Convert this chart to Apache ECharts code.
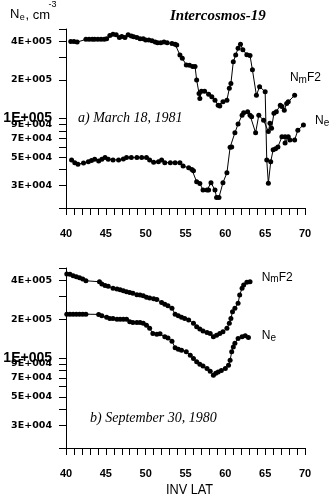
<!DOCTYPE html>
<html><head><meta charset="utf-8">
<script src="https://cdn.jsdelivr.net/npm/echarts@6/dist/echarts.min.js"></script>
<style>html,body{margin:0;padding:0;background:#fff}#c{width:332px;height:500px}</style>
</head><body><div id="c"></div>
<script>
// ---- data (invariant latitude, deg ; electron density, cm^-3) ----
const topNmF2Lat = [40.6,41.0,41.4,42.5,42.9,43.3,43.6,44.0,44.4,44.8,
  45.1,45.5,45.9,46.3,46.7,47.0,47.4,47.8,48.2,48.5,
  48.9,49.3,49.7,50.0,50.4,50.8,51.2,51.5,51.9,52.3,
  52.7,53.3,53.7,53.9,54.3,54.6,55.1,55.5,55.9,56.2,
  56.4,56.7,56.8,57.0,57.4,57.9,58.3,58.7,59.1,59.3,
  59.7,60.2,60.5,60.7,61.0,61.3,61.6,61.9,62.2,62.7,
  63.1,63.4,63.9,64.3,65.0,65.2,65.4,65.7,66.0,66.3,
  66.6,67.1,67.5,67.5,67.9,68.1,68.7,69.1,69.8];
const topNmF2Val = [4.0e5,4.0e5,3.95e5,4.15e5,4.15e5,4.15e5,4.15e5,4.15e5,4.15e5,4.15e5,
  4.2e5,4.45e5,4.55e5,4.5e5,4.3e5,4.37e5,4.3e5,4.5e5,4.4e5,4.35e5,
  4.3e5,4.2e5,4.2e5,4.1e5,4.1e5,4.05e5,3.95e5,3.9e5,3.9e5,3.95e5,
  3.9e5,3.85e5,3.8e5,3.75e5,3.13e5,2.95e5,2.62e5,2.6e5,2.55e5,2.55e5,
  2.0e5,1.57e5,1.43e5,1.63e5,1.63e5,1.55e5,1.48e5,1.39e5,1.27e5,1.25e5,
  1.35e5,1.39e5,1.72e5,1.88e5,2.78e5,3.13e5,3.53e5,3.8e5,3.45e5,3.15e5,
  3.1e5,2.4e5,1.52e5,1.77e5,1.62e5,4.75e4,3.12e4,4.6e4,5.7e4,5.8e4,
  6.0e4,7.2e4,7.2e4,6.45e4,7.2e4,6.8e4,6.8e4,8.1e4,8.9e4];

const topNeLat = [40.7,41.1,41.5,42.2,42.8,43.2,43.6,44.1,44.5,44.9,
  45.3,45.9,46.6,47.2,47.6,48.2,48.9,49.5,50.1,50.5,
  51.0,51.6,52.0,52.4,53.1,53.7,54.3,54.7,55.4,55.8,
  56.0,56.4,56.8,57.2,57.7,57.9,58.2,58.7,58.9,59.2,
  59.7,60.2,60.6,60.8,61.2,61.6,62.1,62.3,62.8,63.1,
  63.3,63.8,64.2,64.8,65.4,65.6,65.8,66.1,66.4,66.9,
  67.1,67.4,67.7,67.9,68.7];
const topNeVal = [4.75e4,4.52e4,4.4e4,4.49e4,4.6e4,4.7e4,4.8e4,4.65e4,4.8e4,4.95e4,
  4.8e4,4.75e4,4.75e4,4.82e4,4.95e4,4.95e4,4.95e4,4.95e4,4.95e4,4.75e4,
  4.55e4,4.6e4,4.75e4,4.52e4,4.52e4,4.52e4,4.52e4,4.25e4,4.12e4,4.0e4,
  3.9e4,3.2e4,3.11e4,2.76e4,2.76e4,2.76e4,3.15e4,2.76e4,2.42e4,2.42e4,
  3.15e4,3.77e4,5.96e4,6.0e4,7.74e4,9.06e4,1.06e5,1.11e5,1.13e5,1.06e5,
  1.03e5,7.74e4,1.06e5,9.7e4,7.9e4,9.2e4,8.4e4,1.1e5,1.13e5,1.27e5,
  1.24e5,1.16e5,1.31e5,1.35e5,1.52e5];

const botNmF2Lat = [40.1,40.5,40.9,41.3,41.7,42.1,42.5,44.2,44.5,44.9,
  45.3,45.9,46.4,46.8,47.2,47.6,48.0,48.4,48.9,49.3,
  49.7,50.1,50.5,51.0,51.4,52.0,52.4,52.8,53.3,53.7,
  54.1,54.5,54.9,55.4,56.0,56.4,56.8,57.2,57.7,58.1,
  58.5,58.9,59.3,59.7,60.2,60.5,60.7,60.9,61.2,61.6,
  61.8,62.1,62.3,62.7,63.1];
const botNmF2Val = [4.49e5,4.47e5,4.36e5,4.28e5,4.2e5,4.1e5,3.98e5,3.91e5,3.75e5,3.65e5,
  3.6e5,3.48e5,3.44e5,3.39e5,3.33e5,3.27e5,3.23e5,3.18e5,3.1e5,3.08e5,
  3.05e5,2.97e5,2.92e5,2.89e5,2.85e5,2.7e5,2.62e5,2.55e5,2.43e5,2.19e5,
  2.13e5,2.07e5,2.03e5,1.97e5,1.86e5,1.75e5,1.68e5,1.62e5,1.58e5,1.55e5,
  1.46e5,1.5e5,1.55e5,1.6e5,1.7e5,1.86e5,2.03e5,2.29e5,2.43e5,2.66e5,
  3.08e5,3.48e5,3.69e5,3.87e5,3.91e5];

const botNeLat = [40.1,40.5,40.9,41.3,41.7,42.1,42.5,44.1,44.5,45.1,
  45.5,45.9,46.4,46.8,47.2,47.6,48.0,48.4,48.9,49.3,
  49.7,50.1,50.5,50.9,51.4,51.8,52.4,52.8,53.3,53.7,
  54.1,54.5,55.1,55.6,56.0,56.4,56.8,57.2,57.7,58.1,
  58.5,58.8,59.1,59.5,60.0,60.4,60.6,60.8,61.0,61.2,
  61.6,62.1,62.5,62.9];
const botNeVal = [2.19e5,2.19e5,2.19e5,2.19e5,2.19e5,2.19e5,2.19e5,2.18e5,2.13e5,2.07e5,
  2.03e5,2.03e5,2.0e5,2.0e5,2.0e5,2.0e5,1.91e5,1.89e5,1.89e5,1.89e5,
  1.86e5,1.8e5,1.7e5,1.55e5,1.53e5,1.54e5,1.46e5,1.43e5,1.35e5,1.2e5,
  1.17e5,1.15e5,1.12e5,1.05e5,9.9e4,9.34e4,8.96e4,8.65e4,8.3e4,7.9e4,
  7.36e4,7.6e4,7.8e4,8.0e4,8.3e4,8.8e4,9.6e4,1.12e5,1.22e5,1.3e5,
  1.42e5,1.46e5,1.49e5,1.44e5];

// ---- axes ----
const xMin = 40, xMax = 70, xTickStep = 1, xLabelStep = 5;
const yMin = 2e4, yMax = 5e5;
const yTickValues = [2e4,3e4,4e4,5e4,6e4,7e4,8e4,9e4,1e5,2e5,3e5,4e5,5e5];
const yLabelValues = [3e4,5e4,7e4,9e4,1e5,2e5,4e5];
const yLabelTexts = ['3E+004','5E+004','7E+004','9E+004','1E+005','2E+005','4E+005'];
const bigLabelValue = 1e5;
const xAxisTitle = 'INV LAT';
const titleText = 'Intercosmos-19';
const panelA = 'a) March 18, 1981';
const panelB = 'b) September 30, 1980';

const L = Math.log10;
const pairs = (lat, val) => lat.map((x, i) => [x, L(val[i])]);

function yLabelFmt(v) {
  for (let i = 0; i < yLabelValues.length; i++) {
    if (Math.abs(L(yLabelValues[i]) - v) < 1e-6) {
      return yLabelValues[i] === bigLabelValue ? '{big|' + yLabelTexts[i] + '}' : yLabelTexts[i];
    }
  }
  return '';
}

const grids = [
  { left: 66, top: 29, width: 239, height: 179 },
  { left: 66, top: 268, width: 239, height: 180 }
];

function mkX(i) {
  return {
    type: 'value', gridIndex: i, min: xMin, max: xMax, interval: xTickStep,
    axisLine: { show: true, onZero: false, lineStyle: { color: '#000', width: 1 } },
    axisTick: { show: true, length: 7, lineStyle: { color: '#000', width: 1 } },
    splitLine: { show: false },
    axisLabel: {
      margin: 20, color: '#000', fontFamily: '"Liberation Sans"', fontWeight: 'bold', fontSize: 11,
      showMinLabel: true, showMaxLabel: true,
      formatter: v => (Math.round(v) % xLabelStep === 0 ? String(Math.round(v)) : '')
    }
  };
}
function mkY(i) {
  return {
    type: 'value', gridIndex: i, min: L(yMin), max: L(yMax),
    axisLine: { show: true, onZero: false, lineStyle: { color: '#000', width: 1 } },
    axisTick: { show: true, length: 7, lineStyle: { color: '#000', width: 1 }, customValues: yTickValues.map(L) },
    splitLine: { show: false },
    axisLabel: {
      margin: 14, color: '#000', fontFamily: '"DejaVu Sans"', fontWeight: 'bold', fontSize: 9.5,
      customValues: yLabelValues.map(L), formatter: yLabelFmt, hideOverlap: false,
      rich: { big: { fontFamily: '"Liberation Sans"', fontWeight: 'bold', fontSize: 14, color: '#000' } }
    }
  };
}

function mkSeries(data, i) {
  return {
    type: 'line', xAxisIndex: i, yAxisIndex: i, data: data,
    symbol: 'circle', symbolSize: 5, showSymbol: true,
    itemStyle: { color: '#000' }, lineStyle: { color: '#000', width: 1 },
    animation: false, silent: true
  };
}

function txt(x, y, text, font, extra, sx) {
  return { type: 'text', x: x, y: y, silent: true, scaleX: sx || 1,
    style: Object.assign({ text: text, font: font, fill: '#000', align: 'left', verticalAlign: 'middle' }, extra || {}) };
}
const SANS = '"Liberation Sans"';
const graphics = [
  txt(10, 14.5, 'N', '13px ' + SANS),
  txt(19.8, 17.2, 'e', '9px ' + SANS),
  txt(25.5, 15.2, ', cm', '13px ' + SANS),
  txt(48.5, 4.6, '-3', '9px ' + SANS),
  txt(170, 16, titleText, 'italic bold 15px "Liberation Serif"'),
  txt(78, 118.5, panelA, 'italic 14px "Liberation Serif"'),
  txt(90, 418.5, panelB, 'italic 14px "Liberation Serif"'),
  // top labels
  txt(290, 78, 'N', '12px ' + SANS),
  txt(298.6, 80, 'm', '10px ' + SANS),
  txt(307, 78, 'F2', '12px ' + SANS),
  txt(315, 121, 'N', '12px ' + SANS),
  txt(323.8, 123.4, 'e', '10px ' + SANS),
  // bottom labels
  txt(261.7, 277.5, 'N', '12px ' + SANS),
  txt(270.3, 279.5, 'm', '10px ' + SANS),
  txt(278.7, 277.5, 'F2', '12px ' + SANS),
  txt(261.7, 336, 'N', '12px ' + SANS),
  txt(270.5, 338.4, 'e', '10px ' + SANS),
  txt(189.5, 490, xAxisTitle, '15px ' + SANS, { align: 'center' }, 0.85)
];

const chart = echarts.init(document.getElementById('c'), null, { renderer: 'canvas' });
chart.setOption({
  backgroundColor: '#fff',
  animation: false,
  grid: grids,
  xAxis: [mkX(0), mkX(1)],
  yAxis: [mkY(0), mkY(1)],
  series: [
    mkSeries(pairs(topNmF2Lat, topNmF2Val), 0),
    mkSeries(pairs(topNeLat, topNeVal), 0),
    mkSeries(pairs(botNmF2Lat, botNmF2Val), 1),
    mkSeries(pairs(botNeLat, botNeVal), 1)
  ],
  graphic: { elements: graphics }
});
</script>
</body></html>
